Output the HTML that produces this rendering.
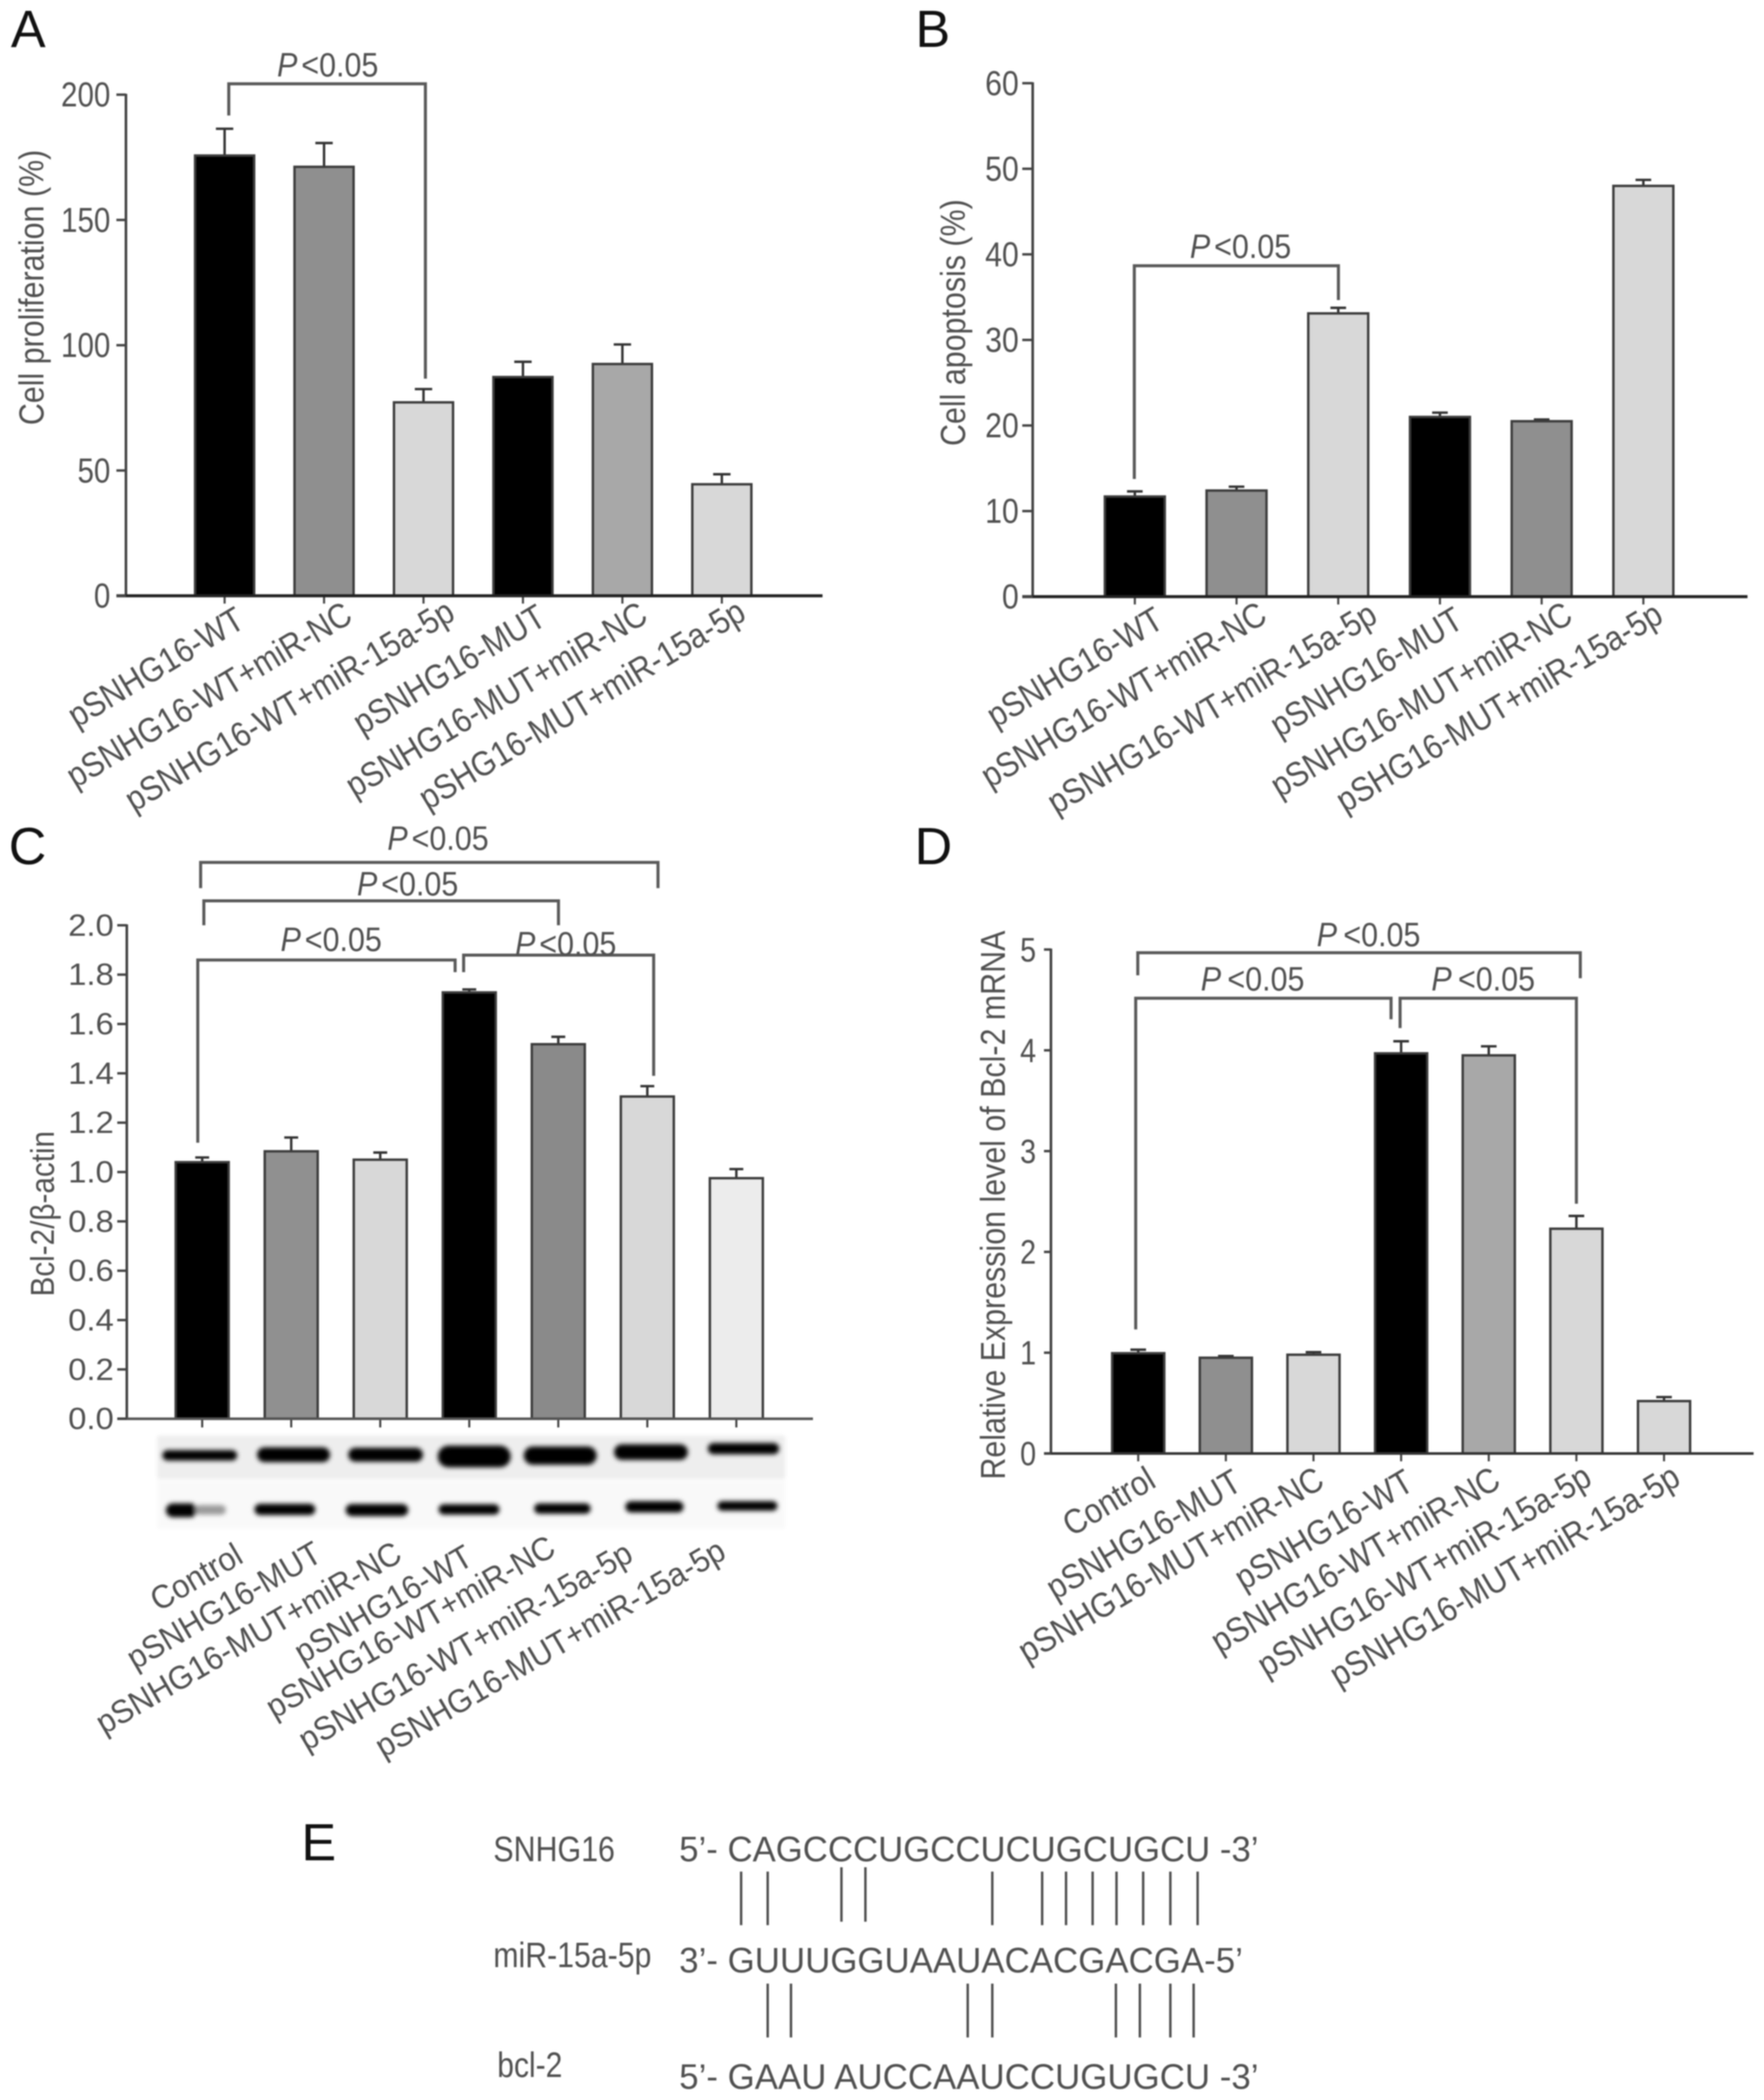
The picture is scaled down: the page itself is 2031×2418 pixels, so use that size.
<!DOCTYPE html>
<html lang="en">
<head>
<meta charset="utf-8">
<title>SNHG16 figure panels A-E</title>
<style>
html,body{margin:0;padding:0;background:#fff;}
#figure{display:block;width:2031px;height:2418px;filter:blur(0.85px);font-family:"Liberation Sans",sans-serif;}
.bk{fill:none;stroke:#595959;stroke-width:3.5;}
.pv{font-size:39px;fill:#505050;}
.pl{font-size:60px;fill:#111;}
.yt{font-size:40px;fill:#505050;text-anchor:middle;}
.pair{stroke:#4f4f4f;stroke-width:2.8;}
.seq{font-size:41px;fill:#505050;}
</style>
</head>
<body>
<svg id="figure" xmlns="http://www.w3.org/2000/svg" width="2031" height="2418" viewBox="0 0 2031 2418">
<defs>
<filter id="blotBlur" x="-10%" y="-40%" width="120%" height="180%"><feGaussianBlur stdDeviation="2.7"/></filter>
<filter id="bgBlur" x="-5%" y="-20%" width="110%" height="140%"><feGaussianBlur stdDeviation="2"/></filter>
</defs>
<rect width="2031" height="2418" fill="#fff"/>

<text class="pl" x="12.5" y="54">A</text>
<text class="pl" x="1054" y="54">B</text>
<text class="pl" x="10" y="995">C</text>
<text class="pl" x="1053" y="995">D</text>
<text class="pl" x="347" y="2142">E</text>

<text class="yt" transform="translate(50,331) rotate(-90) scale(.875,1)">Cell proliferation (%)</text>
<text class="yt" transform="translate(1111,371.5) rotate(-90) scale(.875,1)">Cell apoptosis (%)</text>
<text class="yt" transform="translate(62,1397.5) rotate(-90) scale(.9,1)" style="font-size:38px">Bcl-2/β-actin</text>
<text class="yt" transform="translate(1157,1387.6) rotate(-90) scale(.875,1)">Relative Expression level of Bcl-2 mRNA</text>

<g id="blot"></g>
<g id="panelA"></g>
<g id="panelB"></g>
<g id="panelC"></g>
<g id="panelD"></g>

<g>
<path class="bk" d="M263.4 133V96.5H489.8V436"/>
<text class="pv" transform="translate(319,88) scale(.9,1)"><tspan font-style="italic">P</tspan><tspan dx="5">&lt;0.05</tspan></text>
</g>
<g>
<path class="bk" d="M1306 551.5V306H1541V345.5"/>
<text class="pv" transform="translate(1370,297) scale(.9,1)"><tspan font-style="italic">P</tspan><tspan dx="5">&lt;0.05</tspan></text>
</g>
<g>
<path class="bk" d="M231 1022.6V993H757.6V1022.6"/>
<text class="pv" transform="translate(446,978.5) scale(.9,1)"><tspan font-style="italic">P</tspan><tspan dx="5">&lt;0.05</tspan></text>
<path class="bk" d="M234.7 1065.4V1037.3H643V1065.4"/>
<text class="pv" transform="translate(411,1031) scale(.9,1)"><tspan font-style="italic">P</tspan><tspan dx="5">&lt;0.05</tspan></text>
<path class="bk" d="M227.7 1315.8V1105.4H524V1119.4"/>
<text class="pv" transform="translate(323,1095) scale(.9,1)"><tspan font-style="italic">P</tspan><tspan dx="5">&lt;0.05</tspan></text>
<path class="bk" d="M533.8 1119.4V1099.8H752.6V1238.7"/>
<text class="pv" transform="translate(593,1099.8) scale(.9,1)"><tspan font-style="italic">P</tspan><tspan dx="5">&lt;0.05</tspan></text>
</g>
<g>
<path class="bk" d="M1310 1123V1097H1819.5V1126.4"/>
<text class="pv" transform="translate(1516,1089.4) scale(.9,1)"><tspan font-style="italic">P</tspan><tspan dx="8">&lt;0.05</tspan></text>
<path class="bk" d="M1307.6 1530.8V1149.4H1601.6V1173.6"/>
<text class="pv" transform="translate(1382.5,1140.5) scale(.9,1)"><tspan font-style="italic">P</tspan><tspan dx="8">&lt;0.05</tspan></text>
<path class="bk" d="M1612 1183.8V1149.4H1815V1386"/>
<text class="pv" transform="translate(1648,1140.5) scale(.9,1)"><tspan font-style="italic">P</tspan><tspan dx="8">&lt;0.05</tspan></text>
</g>

<g>
<text class="seq" x="568" y="2143" textLength="140" lengthAdjust="spacingAndGlyphs">SNHG16</text>
<text class="seq" x="568" y="2265" textLength="182" lengthAdjust="spacingAndGlyphs">miR-15a-5p</text>
<text class="seq" x="572.5" y="2391.7" textLength="75" lengthAdjust="spacingAndGlyphs">bcl-2</text>
<text class="seq" x="782" y="2143" textLength="667" lengthAdjust="spacingAndGlyphs">5’- CAGCCCUGCCUCUGCUGCU -3’</text>
<text class="seq" x="782" y="2271" textLength="649" lengthAdjust="spacingAndGlyphs">3’- GUUUGGUAAUACACGACGA-5’</text>
<text class="seq" x="782" y="2405" textLength="667" lengthAdjust="spacingAndGlyphs">5’- GAAU AUCCAAUCCUGUGCU -3’</text>
<g>
<line class="pair" x1="853.3" x2="853.3" y1="2155" y2="2216.7"/>
<line class="pair" x1="883.9" x2="883.9" y1="2155" y2="2216.7"/>
<line class="pair" x1="968.8" x2="968.8" y1="2150" y2="2212.7"/>
<line class="pair" x1="996.4" x2="996.4" y1="2150" y2="2212.7"/>
<line class="pair" x1="1142.5" x2="1142.5" y1="2155" y2="2216.7"/>
<line class="pair" x1="1199.9" x2="1199.9" y1="2155" y2="2216.7"/>
<line class="pair" x1="1227.4" x2="1227.4" y1="2155" y2="2216.7"/>
<line class="pair" x1="1258" x2="1258" y1="2155" y2="2216.7"/>
<line class="pair" x1="1285.5" x2="1285.5" y1="2155" y2="2216.7"/>
<line class="pair" x1="1316.2" x2="1316.2" y1="2155" y2="2216.7"/>
<line class="pair" x1="1347.5" x2="1347.5" y1="2155" y2="2216.7"/>
<line class="pair" x1="1378.9" x2="1378.9" y1="2155" y2="2216.7"/>
</g>
<g>
<line class="pair" x1="883.9" x2="883.9" y1="2284" y2="2346"/>
<line class="pair" x1="910.7" x2="910.7" y1="2284" y2="2346"/>
<line class="pair" x1="1114.2" x2="1114.2" y1="2284" y2="2346"/>
<line class="pair" x1="1142.5" x2="1142.5" y1="2284" y2="2346"/>
<line class="pair" x1="1284.8" x2="1284.8" y1="2284" y2="2346"/>
<line class="pair" x1="1312.4" x2="1312.4" y1="2284" y2="2346"/>
<line class="pair" x1="1347.5" x2="1347.5" y1="2284" y2="2346"/>
<line class="pair" x1="1374.3" x2="1374.3" y1="2284" y2="2346"/>
</g>
</g>
</svg>

<script>
// Panel A data
const categoriesA = ['pSNHG16-WT','pSNHG16-WT+miR-NC','pSNHG16-WT+miR-15a-5p','pSNHG16-MUT','pSNHG16-MUT+miR-NC','pSHG16-MUT+miR-15a-5p'];
const valuesA = [175.7,171.2,77.2,87.3,92.5,44.5];
const errorsA = [10.7,9.5,5.3,6.1,7.8,4.0];
const ticksA = ['0','50','100','150','200'];
// Panel B data
const categoriesB = ['pSNHG16-WT','pSNHG16-WT+miR-NC','pSNHG16-WT+miR-15a-5p','pSNHG16-MUT','pSNHG16-MUT+miR-NC','pSHG16-MUT+miR-15a-5p'];
const valuesB = [11.7,12.4,33.1,21.0,20.5,48.0];
const errorsB = [0.6,0.45,0.65,0.5,0.2,0.7];
const ticksB = ['0','10','20','30','40','50','60'];
// Panel C data
const categoriesC = ['Control','pSNHG16-MUT','pSNHG16-MUT+miR-NC','pSNHG16-WT','pSNHG16-WT+miR-NC','pSNHG16-WT+miR-15a-5p','pSNHG16-MUT+miR-15a-5p'];
const valuesC = [1.04,1.084,1.05,1.728,1.518,1.306,0.975];
const errorsC = [0.019,0.056,0.029,0.012,0.03,0.042,0.037];
const ticksC = ['0.0','0.2','0.4','0.6','0.8','1.0','1.2','1.4','1.6','1.8','2.0'];
// Panel D data
const categoriesD = ['Control','pSNHG16-MUT','pSNHG16-MUT+miR-NC','pSNHG16-WT','pSNHG16-WT+miR-NC','pSNHG16-WT+miR-15a-5p','pSNHG16-MUT+miR-15a-5p'];
const valuesD = [0.995,0.95,0.98,3.97,3.95,2.23,0.52];
const errorsD = [0.035,0.017,0.025,0.12,0.09,0.127,0.04];
const ticksD = ['0','1','2','3','4','5'];

const SVG_NS = 'http://www.w3.org/2000/svg';
function make(tag, attrs, parent) {
  const el = document.createElementNS(SVG_NS, tag);
  for (const k in attrs) el.setAttribute(k, attrs[k]);
  parent.appendChild(el);
  return el;
}

function drawChart(rootId, cats, vals, errs, ticks, fills, L) {
  const root = document.getElementById(rootId);
  const yMax = parseFloat(ticks[ticks.length - 1]);
  const yScale = v => L.y0 - (v / yMax) * (L.y0 - L.yTop);
  const xScale = i => L.x0 + i * L.step;

  cats.forEach((cat, i) => {
    const cx = xScale(i);
    const top = yScale(vals[i]);
    const errTop = yScale(vals[i] + errs[i]);
    const stem = make('line', {x1: cx, x2: cx, y1: top, y2: errTop, stroke: '#333', 'stroke-width': 2.8}, root);
    
    
    const cap = make('line', {x1: cx - L.cap / 2, x2: cx + L.cap / 2, y1: errTop, y2: errTop, stroke: '#333', 'stroke-width': 2.8}, root);
    
    
    const bar = make('rect', {x: cx - L.barW / 2, y: top, width: L.barW, height: L.y0 - top, fill: fills[i], stroke: '#3c3c3c', 'stroke-width': 2.8}, root);
    
    
    const xt = make('line', {x1: cx, x2: cx, y1: L.y0, y2: L.y0 + L.xTick, stroke: '#444', 'stroke-width': 2.4}, root);
    
    
    const lab = make('text', {transform: 'translate(' + L.labelX[i] + ',' + L.labelY[i] + ') rotate(' + L.angle + ') scale(' + L.labelSx + ',1)', 'text-anchor': 'end', 'font-size': L.labelSize, fill: '#505050'}, root);
    lab.textContent = cat;
    
    
  });

  const yAxis = make('line', {x1: L.x0 - L.axisLead, x2: L.x0 - L.axisLead, y1: L.yTop - 1, y2: L.y0, stroke: '#444', 'stroke-width': 3}, root);
  
  
  const xAxis = make('line', {x1: L.x0 - L.axisLead - L.yTick, x2: L.xEnd, y1: L.y0, y2: L.y0, stroke: L.xAxisColor, 'stroke-width': L.xAxisW}, root);
  
  

  ticks.forEach(t => {
    const y = yScale(parseFloat(t));
    const axisX = L.x0 - L.axisLead;
    const tk = make('line', {x1: axisX - L.yTick, x2: axisX, y1: y, y2: y, stroke: '#444', 'stroke-width': 2.8}, root);
    
    
    const tl = make('text', {transform: 'translate(' + L.tickLabelX + ',' + (y + L.tickBase) + ') scale(' + L.tickSx + ',1)', 'text-anchor': 'end', 'font-size': L.tickSize, fill: '#505050'}, root);
    tl.textContent = t;
    
    
  });
}

drawChart('panelA', categoriesA, valuesA, errorsA, ticksA,
  ['#000','#8f8f8f','#d8d8d8','#000','#a8a8a8','#d8d8d8'],
  {x0:258.6, step:114.5, barW:68, y0:686, yTop:109, axisLead:113.6, yTick:11, xEnd:947, xTick:9, cap:20,
   xAxisColor:'#222', xAxisW:3.6, tickLabelX:127, tickBase:13.5, tickSx:.85, tickSize:40, labelSize:40, labelSx:.885, angle:-31,
   labelX:[284,408,526,631,748,861], labelY:[721,715,712,718,715,712]});

drawChart('panelB', categoriesB, valuesB, errorsB, ticksB,
  ['#000','#8f8f8f','#d8d8d8','#000','#8f8f8f','#d8d8d8'],
  {x0:1306.6, step:117.1, barW:69, y0:687, yTop:95.8, axisLead:117.6, yTick:12, xEnd:2012, xTick:9, cap:18,
   xAxisColor:'#222', xAxisW:3.6, tickLabelX:1173, tickBase:13.5, tickSx:.87, tickSize:40, labelSize:40, labelSx:.885, angle:-31,
   labelX:[1342,1461,1588,1687,1813,1917], labelY:[721,715,715,721,715,715]});

drawChart('panelC', categoriesC, valuesC, errorsC, ticksC,
  ['#000','#909090','#d8d8d8','#000','#8a8a8a','#d8d8d8','#ececec'],
  {x0:232.8, step:102.5, barW:61, y0:1633.6, yTop:1065.4, axisLead:86.8, yTick:11, xEnd:936, xTick:10, cap:16,
   xAxisColor:'#555', xAxisW:3, tickLabelX:131, tickBase:12, tickSx:1.08, tickSize:35, labelSize:38, labelSx:.94, angle:-30.3,
   labelX:[282,373,465,547,642,731,838], labelY:[1798,1796,1796,1800,1789,1796,1793]});

drawChart('panelD', categoriesD, valuesD, errorsD, ticksD,
  ['#000','#8f8f8f','#d8d8d8','#000','#a8a8a8','#d8d8d8','#d8d8d8'],
  {x0:1310.5, step:100.9, barW:60, y0:1673.6, yTop:1093.3, axisLead:100.5, yTick:8, xEnd:2019, xTick:9, cap:18,
   xAxisColor:'#333', xAxisW:3, tickLabelX:1193, tickBase:13.5, tickSx:.85, tickSize:39, labelSize:40, labelSx:.895, angle:-30.7,
   labelX:[1333,1432,1527,1630,1730,1835,1937], labelY:[1711,1714,1711,1714,1711,1708,1708]});

// Western blot bands, drawn as blurred soft shapes (x, centre y, width, height)
const blotRoot = document.getElementById('blot');
const blotBg = make('g', {filter: 'url(#bgBlur)'}, blotRoot);
const blotTopBg = make('rect', {x: 181, y: 1653, width: 723, height: 50, fill: '#eeeeee'}, blotBg);


const blotBottomBg = make('rect', {x: 181, y: 1705, width: 723, height: 55, fill: '#f9f9f9'}, blotBg);


const topBands = [[187,1675.7,86,12],[296,1675,84,17],[401,1675,86,16],[504,1677,84,25],[603,1676,84,21],[707,1672,85,18],[815,1668,82,13]];
const bottomBands = [[191,1739,36,16],[293,1738,70,13],[398,1738.7,72,14],[505,1738,70,12],[615,1737,65,12],[720,1735,67,13],[826,1734,69,11]];
const blotBands = make('g', {filter: 'url(#blotBlur)'}, blotRoot);
topBands.forEach(b => {
  const band = make('rect', {x: b[0], y: b[1] - b[3] / 2, width: b[2], height: b[3], rx: b[3] / 2, fill: '#000'}, blotBands);
  
  
});
bottomBands.forEach(b => {
  const band = make('rect', {x: b[0], y: b[1] - b[3] / 2, width: b[2], height: b[3], rx: b[3] / 2, fill: '#000'}, blotBands);
  
  
});
const fadedBand = make('rect', {x: 225, y: 1733, width: 35, height: 11, rx: 5, fill: '#9a9a9a'}, blotBands);


</script>
</body>
</html>
